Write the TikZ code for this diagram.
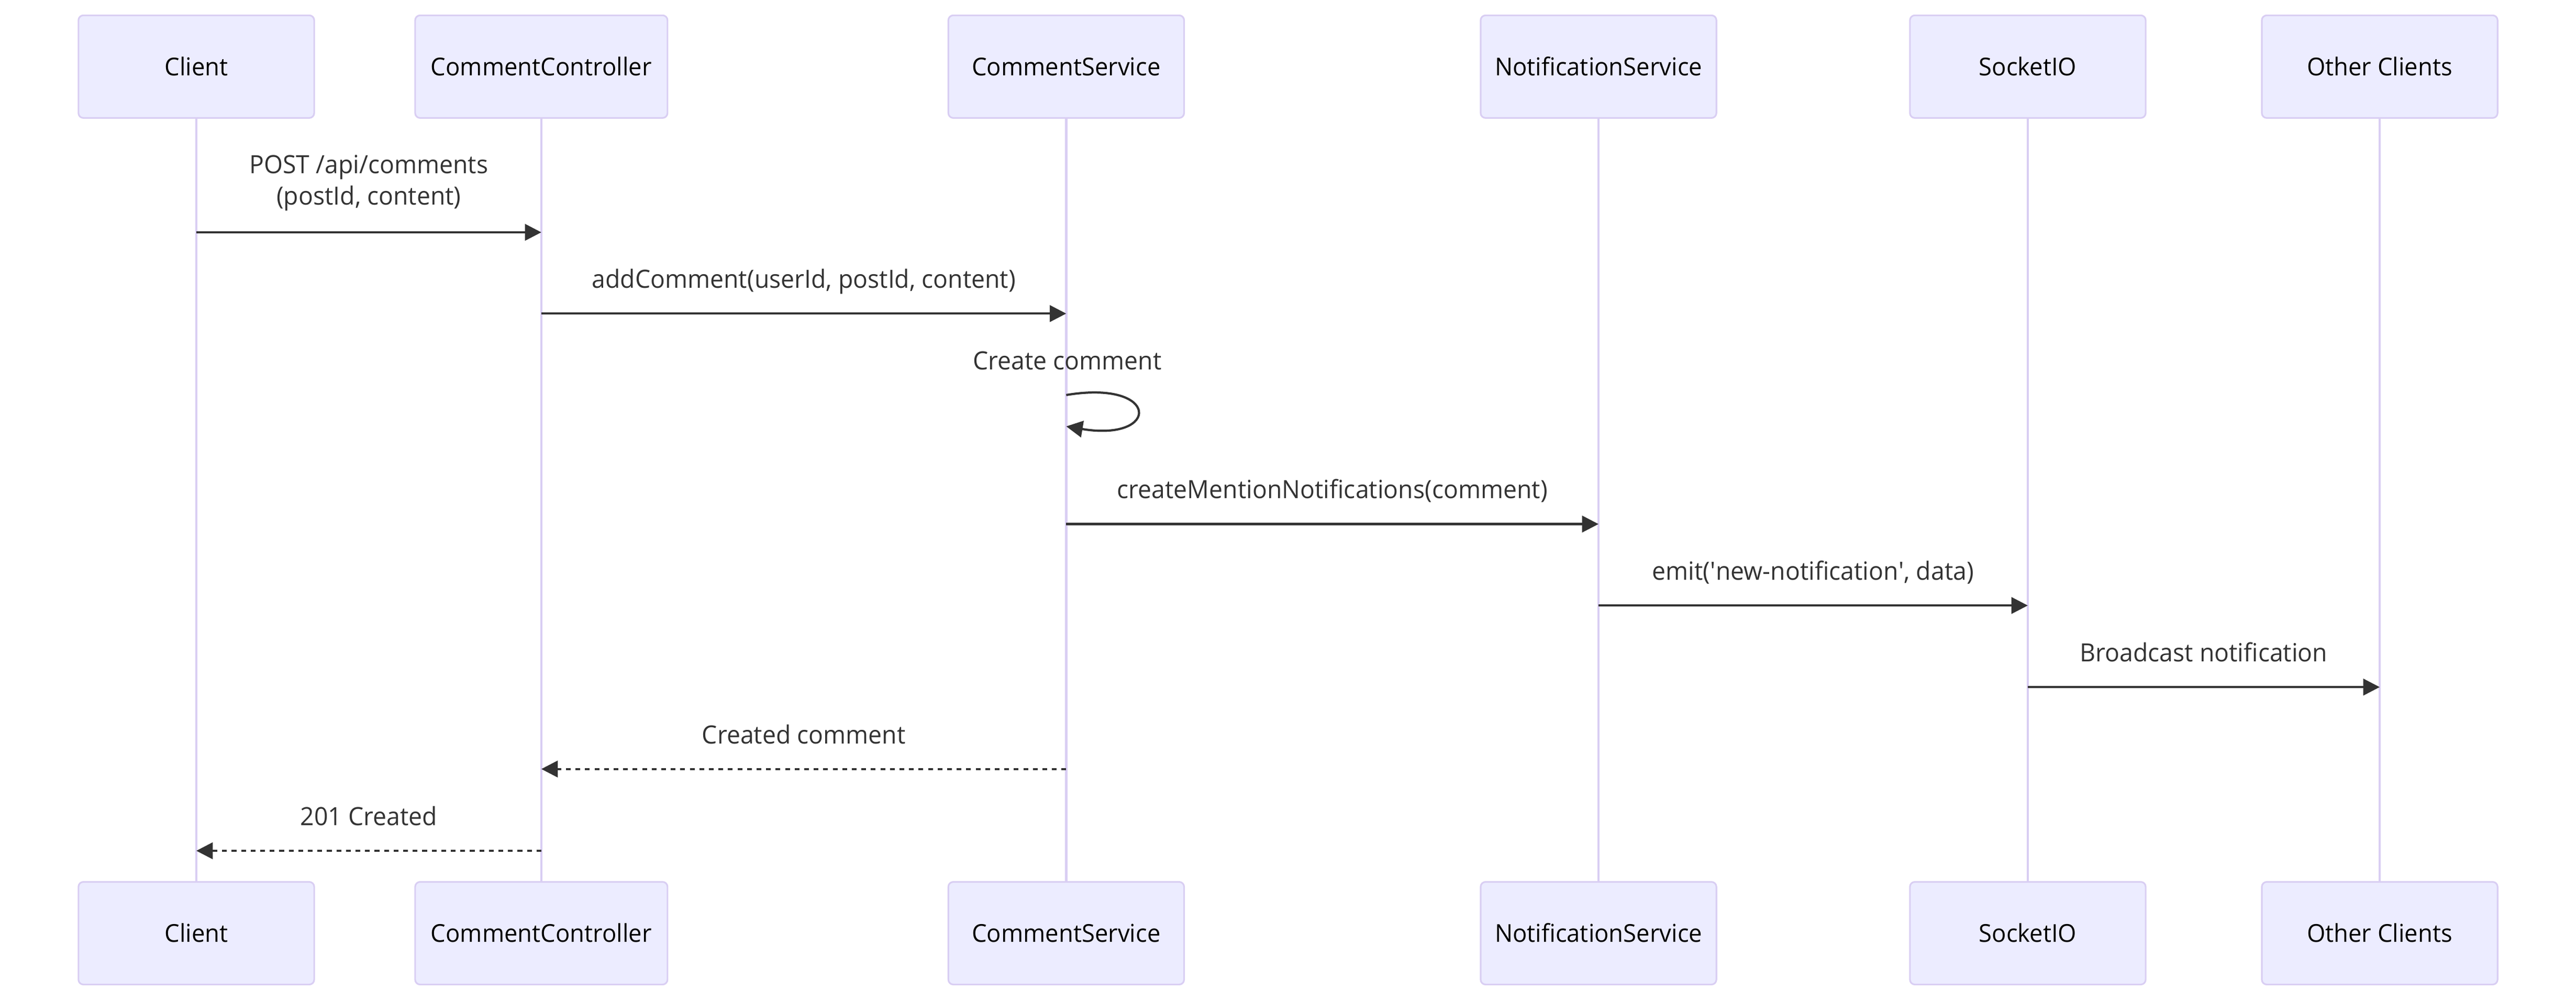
\documentclass[tikz,border=0pt]{standalone}
\usepackage{fontspec}
\setmainfont{Open Sans}[FakeStretch=0.965]
\usetikzlibrary{arrows.meta}
\definecolor{actfill}{HTML}{ECECFF}
\definecolor{actline}{HTML}{D9CEF3}
\definecolor{msgcol}{HTML}{333333}
\begin{document}
\begin{tikzpicture}[x=1pt,y=-1pt,
  actor/.style={draw=actline, fill=actfill, line width=1pt, rounded corners=3pt,
    minimum width=143.5pt, minimum height=62.5pt, inner sep=0pt,
    text height=11pt, text depth=0pt, text=black,
    font=\fontsize{15}{18}\selectfont},
  life/.style={draw=actline, line width=1.5pt},
  msgarrow/.style={draw=msgcol, line width=1.35pt, -{Triangle[length=10pt,width=10pt]}},
  retarrow/.style={msgarrow, dash pattern=on 2.9pt off 2.9pt},
  lbl/.style={text=msgcol, inner sep=0pt, anchor=base, align=center,
    font=\fontsize{15.3}{19}\selectfont}]
\useasboundingbox (0,0) rectangle (1568,610);

% actors top
\node[actor] (clT) at (119.5,40.6) {Client};
\node[actor, minimum width=153.6pt] (ccT) at (329.5,40.6) {CommentController};
\node[actor] (csT) at (649,40.6) {CommentService};
\node[actor] (nsT) at (973,40.6) {NotificationService};
\node[actor] (siT) at (1234.3,40.6) {SocketIO};
\node[actor] (ocT) at (1448.5,40.6) {Other Clients};
% actors bottom
\node[actor] (clB) at (119.5,568.4) {Client};
\node[actor, minimum width=153.6pt] (ccB) at (329.5,568.4) {CommentController};
\node[actor] (csB) at (649,568.4) {CommentService};
\node[actor] (nsB) at (973,568.4) {NotificationService};
\node[actor] (siB) at (1234.3,568.4) {SocketIO};
\node[actor] (ocB) at (1448.5,568.4) {Other Clients};

% lifelines
\draw[life] (clT.south) -- (clB.north);
\draw[life] (ccT.south) -- (ccB.north);
\draw[life] (csT.south) -- (csB.north);
\draw[life] (nsT.south) -- (nsB.north);
\draw[life] (siT.south) -- (siB.north);
\draw[life] (ocT.south) -- (ocB.north);

% message rows
\coordinate (r1) at (0,141.5);
\coordinate (r2) at (0,191);
\coordinate (r3a) at (0,240.6);
\coordinate (r3b) at (0,259.7);
\coordinate (r4) at (0,319.2);
\coordinate (r5) at (0,368.8);
\coordinate (r6) at (0,418.5);
\coordinate (r7) at (0,468.4);
\coordinate (r8) at (0,518.2);

% 1
\node[lbl] (m1) at (224.5,124.8) {POST /api/comments\\(postId, content)};
\draw[msgarrow] (clT |- r1) -- (ccT |- r1);
% 2
\node[lbl] (m2) at (489.3,175.5) {addComment(userId, postId, content)};
\draw[msgarrow] (ccT |- r2) -- (csT |- r2);
% 3 self loop
\node[lbl] (m3) at (649.7,225.2) {Create comment};
\draw[msgarrow] (csT |- r3a) .. controls (706.4,231) and (706.4,269.3) .. (csT |- r3b);
% 4
\node[lbl] (m4) at (811,303.7) {createMentionNotifications(comment)};
\draw[msgarrow] (csT |- r4) -- (nsT |- r4);
% 5
\node[lbl] (m5) at (1103.6,353.3) {emit(\textquotesingle new-notification\textquotesingle, data)};
\draw[msgarrow] (nsT |- r5) -- (siT |- r5);
% 6
\node[lbl] (m6) at (1341.4,403) {Broadcast notification};
\draw[msgarrow] (siT |- r6) -- (ocT |- r6);
% 7
\node[lbl] (m7) at (489.3,452.9) {Created comment};
\draw[retarrow] (csT |- r7) -- (ccT |- r7);
% 8
\node[lbl] (m8) at (224.5,502.7) {201 Created};
\draw[retarrow] (ccT |- r8) -- (clT |- r8);
\end{tikzpicture}
\end{document}
